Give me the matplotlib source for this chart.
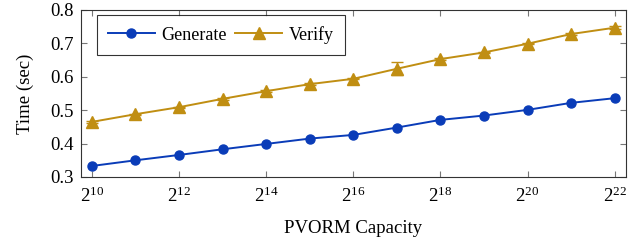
import matplotlib
matplotlib.use("Agg")
import matplotlib.pyplot as plt
from matplotlib.ticker import FixedLocator, FuncFormatter
from matplotlib.lines import Line2D
import numpy as np

exponents = list(range(10, 23))
capacities = [2 ** k for k in exponents]
generate = [0.333, 0.350, 0.366, 0.383, 0.399, 0.415, 0.426, 0.448, 0.471, 0.484, 0.501, 0.522, 0.536]
verify = [0.465, 0.488, 0.509, 0.534, 0.557, 0.578, 0.594, 0.624, 0.653, 0.673, 0.699, 0.728, 0.747]
verify_err = [0.002, 0.002, 0.002, 0.002, 0.002, 0.002, 0.002, 0.019, 0.002, 0.002, 0.002, 0.002, 0.004]
xtick_exps = [10, 12, 14, 16, 18, 20, 22]
yticks = [0.3, 0.4, 0.5, 0.6, 0.7, 0.8]

plt.rcParams['font.family'] = ['Liberation Serif', 'DejaVu Serif']
plt.rcParams['mathtext.fontset'] = 'custom'
plt.rcParams['mathtext.rm'] = 'Liberation Serif'
plt.rcParams['mathtext.it'] = 'Liberation Serif:italic'
plt.rcParams['font.size'] = 13.5

blue = '#0a3cb8'
gold = '#c08e12'

fig = plt.figure(figsize=(6.41, 2.42), dpi=100)
ax = fig.add_axes([0.1264, 0.2686, 0.8502, 0.6901])

ax.plot(capacities, generate, color=blue, lw=1.4, marker='o', ms=6.5, zorder=3)
ax.errorbar(capacities, verify, yerr=verify_err, color=gold, lw=1.4, marker='^', ms=8,
            capsize=4, elinewidth=1.0, capthick=1.0, zorder=3)

ax.set_xscale('log', base=2)
ax.set_xlim(2 ** 9.75, 2 ** 22.26)
ax.set_ylim(0.3, 0.8)
ax.xaxis.set_major_locator(FixedLocator([2 ** k for k in xtick_exps]))
ax.xaxis.set_minor_locator(FixedLocator([]))
ax.xaxis.set_major_formatter(FuncFormatter(lambda v, p: r'$2^{%d}$' % round(np.log2(v))))
ax.set_yticks(yticks)
ax.set_yticklabels([f'{v:.1f}' for v in yticks])

ax.tick_params(axis='both', which='both', direction='in', top=True, right=True,
               length=4.5, width=0.8, color='#777777', labelsize=13.5, pad=5)
ax.tick_params(axis='x', pad=7)
for s in ax.spines.values():
    s.set_color('#333333')
    s.set_linewidth(0.8)

ax.set_xlabel('PVORM Capacity', fontsize=13.5, labelpad=10)
ax.set_ylabel('Time (sec)', fontsize=13.5, labelpad=12)

handles = [Line2D([], [], color=blue, lw=1.4, marker='o', ms=6.5),
           Line2D([], [], color=gold, lw=1.4, marker='^', ms=8)]
leg = ax.legend(handles, ['Generate', 'Verify'], loc='upper left', ncol=2, frameon=True,
                fancybox=False, fontsize=13, edgecolor='black', borderpad=0.6,
                handlelength=2.6, columnspacing=0.5, handletextpad=0.35,
                borderaxespad=0.0, bbox_to_anchor=(0.029, 0.97))
leg.get_frame().set_linewidth(0.8)

fig.savefig('out.png', dpi=100)
